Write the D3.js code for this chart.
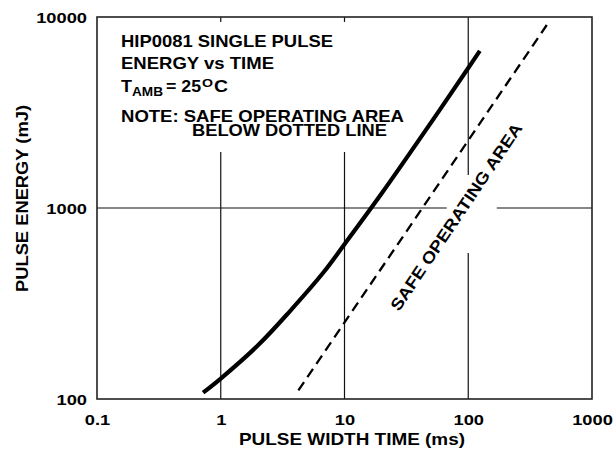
<!DOCTYPE html>
<html><head><meta charset="utf-8">
<script src="https://cdn.jsdelivr.net/npm/d3@7/dist/d3.min.js"></script>
<style>
body{margin:0;background:#fff}
text{font-family:"Liberation Sans",Arial,Helvetica,sans-serif;font-weight:bold;fill:#000}
</style>
</head><body>
<svg id="c" width="614" height="457"></svg>
<script>
// ---- data ----
const xTicks = [0.1, 1, 10, 100, 1000];
const xTickLabels = ["0.1", "1", "10", "100", "1000"];
const yTicks = [100, 1000, 10000];
const yTickLabels = ["100", "1000", "10000"];
const pulseWidth  = [0.72, 1, 2, 3.6, 6.8, 10, 20, 50, 100, 124];
const pulseEnergy = [108, 128, 191, 287, 462, 646, 1194, 2800, 5410, 6650];
const safeWidth  = [4.24, 431];
const safeEnergy = [111, 9080];
// grid lines (data units) with gaps where annotations sit
const vGrid = [
  {x: 1,   segs: [[100, 1964], [9420, 10000]]},
  {x: 10,  segs: [[100, 1964], [9420, 10000]]},
  {x: 100, segs: [[100, 581], [1490, 10000]]}
];
const hGrid = [
  {y: 1000, segs: [[0.1, 67], [170, 1000]]}
];

const svg = d3.select("#c");
const x = d3.scaleLog().domain([0.1, 1000]).range([97, 592]);
const y = d3.scaleLog().domain([100, 10000]).range([399, 17]);

function fit(sel, w) {
  sel.attr("textLength", w).attr("lengthAdjust", "spacingAndGlyphs");
}
function widen(sel, k) {
  sel.each(function () {
    const w = this.getComputedTextLength();
    this.setAttribute("textLength", w * k);
    this.setAttribute("lengthAdjust", "spacingAndGlyphs");
  });
}

// grid
const g = svg.append("g").attr("stroke", "#111").attr("stroke-width", 1.2);
vGrid.forEach(v => v.segs.forEach(s => {
  g.append("line").attr("x1", x(v.x)).attr("x2", x(v.x)).attr("y1", y(s[0])).attr("y2", y(s[1]));
}));
hGrid.forEach(h => h.segs.forEach(s => {
  g.append("line").attr("y1", y(h.y)).attr("y2", y(h.y)).attr("x1", x(s[0])).attr("x2", x(s[1]));
}));

// frame
svg.append("rect").attr("x", x(0.1)).attr("y", y(10000))
  .attr("width", x(1000) - x(0.1)).attr("height", y(100) - y(10000))
  .attr("fill", "none").attr("stroke", "#222").attr("stroke-width", 1.6);

// axes
const xa = svg.append("g").attr("transform", `translate(0,${y(100)})`)
  .call(d3.axisBottom(x).tickValues(xTicks).tickSize(0).tickFormat((d, i) => xTickLabels[i]));
xa.select(".domain").remove();
xa.selectAll("text").attr("y", 26).attr("dy", 0).attr("font-size", 15.5)
  .style("font-family", '"Liberation Sans",Arial,sans-serif').style("font-weight", "bold");
widen(xa.selectAll("text"), 1.18);

const ya = svg.append("g").attr("transform", `translate(${x(0.1)},0)`)
  .call(d3.axisLeft(y).tickValues(yTicks).tickSize(0).tickFormat((d, i) => yTickLabels[i]));
ya.select(".domain").remove();
ya.selectAll("text").attr("x", -10).attr("dy", "0.36em").attr("font-size", 15.5)
  .style("font-family", '"Liberation Sans",Arial,sans-serif').style("font-weight", "bold");
widen(ya.selectAll("text"), 1.18);

// axis titles
svg.append("text").attr("x", 352).attr("y", 445).attr("text-anchor", "middle")
  .attr("font-size", 16.5).text("PULSE WIDTH TIME (ms)").call(fit, 226);
svg.append("text").attr("transform", "translate(28,198.5) rotate(-90)").attr("text-anchor", "middle")
  .attr("font-size", 16.5).text("PULSE ENERGY (mJ)").call(fit, 187);

// curves
const line = d3.line().x(d => x(d[0])).y(d => y(d[1])).curve(d3.curveCatmullRom.alpha(0.5));
svg.append("path").datum(pulseWidth.map((w, i) => [w, pulseEnergy[i]]))
  .attr("d", line).attr("fill", "none").attr("stroke", "#000").attr("stroke-width", 4.2);
svg.append("path").datum(safeWidth.map((w, i) => [w, safeEnergy[i]]))
  .attr("d", d3.line().x(d => x(d[0])).y(d => y(d[1])))
  .attr("fill", "none").attr("stroke", "#000").attr("stroke-width", 2.3)
  .attr("stroke-dasharray", "10,6");

// annotation block
svg.append("text").attr("x", 121).attr("y", 47).attr("font-size", 16.5).text("HIP0081 SINGLE PULSE").call(fit, 212);
svg.append("text").attr("x", 121).attr("y", 69).attr("font-size", 16.5).text("ENERGY vs TIME").call(fit, 153);
svg.append("text").attr("x", 121).attr("y", 91.5).attr("font-size", 16.5).text("T").call(fit, 11);
svg.append("text").attr("x", 132).attr("y", 95.5).attr("font-size", 13.5).text("AMB").call(fit, 31);
svg.append("text").attr("x", 166).attr("y", 91.5).attr("font-size", 16.5).text("= 25").call(fit, 35);
svg.append("text").attr("x", 202).attr("y", 86.5).attr("font-size", 11.5).text("O").call(fit, 11);
svg.append("text").attr("x", 214).attr("y", 91.5).attr("font-size", 16.5).text("C").call(fit, 14);
const note = svg.append("text").attr("font-size", 16.5);
note.append("tspan").attr("x", 121).attr("y", 121.5).text("NOTE: SAFE OPERATING AREA").call(fit, 283);
note.append("tspan").attr("x", 192).attr("y", 135.5).text("BELOW DOTTED LINE").call(fit, 195);

// rotated label
svg.append("text").attr("transform", "translate(461,220) rotate(-56)").attr("text-anchor", "middle")
  .attr("font-size", 16.5).text("SAFE OPERATING AREA").call(fit, 222);
</script>
</body></html>
